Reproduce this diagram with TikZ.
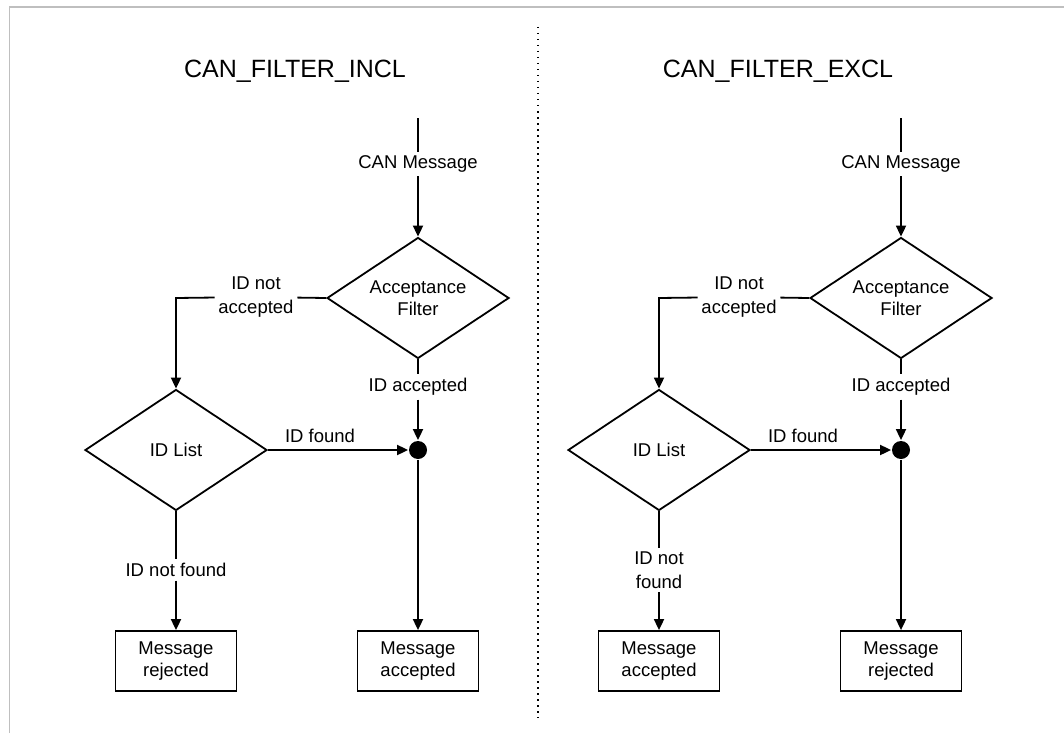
\documentclass[tikz,border=0pt]{standalone}
\usepackage{fontspec}
\setmainfont{Liberation Sans}
\usetikzlibrary{shapes.geometric,arrows.meta}
\begin{document}
\begin{tikzpicture}[x=1pt,y=-1pt,
  line width=1.8pt,
  arr/.style={-{Triangle[length=11pt,width=10pt]}},
  dec/.style={diamond,draw,line width=1.8pt,aspect=1.5,inner sep=0pt,minimum width=182pt,minimum height=121pt,align=center,font=\fontsize{18.5}{21.5}\selectfont},
  box/.style={draw,line width=1.8pt,minimum width=121pt,minimum height=60pt,inner sep=0pt,align=center,font=\fontsize{18.5}{22.5}\selectfont},
  lbl/.style={fill=white,inner sep=3pt,align=center,font=\fontsize{18.5}{24}\selectfont},
  ttl/.style={font=\fontsize{25}{30}\selectfont},
  dotn/.style={circle,fill=black,minimum size=18pt,inner sep=0pt}]
\useasboundingbox (0,0) rectangle (1064,733);
\draw[black!25,line width=1.5pt] (9.5,733) -- (9.5,7) -- (1064,7);
\draw[line width=1.2pt,dash pattern=on 1.5pt off 4.5pt] (538,27) -- (538,718);

\foreach \p/\dx/\ttext/\bl/\br/\nf in {I/0/CAN\_FILTER\_INCL/Message\\rejected/Message\\accepted/ID not found,
                                      E/483/CAN\_FILTER\_EXCL/Message\\accepted/Message\\rejected/ID not\\found}{
  \begin{scope}[xshift=\dx pt]
  \node[ttl] (title\p) at (295,71) {\ttext};
  \coordinate (start\p) at (418,118);
  \node[lbl] (can\p) at (418,164) {CAN Message};
  \node[dec] (acc\p) at (418,298) {Acceptance\\Filter};
  \node[lbl] (idacc\p) at (418,387) {ID accepted};
  \node[dotn] (dot\p) at (418,450) {};
  \node[dec] (list\p) at (176,450) {ID List};
  \node[lbl] (notacc\p) at (256,297) {ID not\\accepted};
  \coordinate (corner\p) at (176,298);
  \node[lbl,fill=none] (found\p) at (320,436) {ID found};
  \node[lbl] (notfound\p) at (176,570) {\nf};
  \node[box] (boxl\p) at (176,661) {\bl};
  \node[box] (boxr\p) at (418,661) {\br};
  \end{scope}
  \draw (start\p) -- (can\p);
  \draw[arr] (can\p) -- (acc\p.north);
  \draw (acc\p.south) -- (idacc\p);
  \draw[arr] (idacc\p) -- (dot\p.north);
  \draw (acc\p.west) -- (notacc\p);
  \draw[arr] (notacc\p) -- (corner\p) -- (list\p.north);
  \draw[arr] (list\p.east) -- (dot\p.west);
  \draw (list\p.south) -- (notfound\p);
  \draw[arr] (notfound\p) -- (boxl\p.north);
  \draw[arr] (dot\p.south) -- (boxr\p.north);
}
\end{tikzpicture}
\end{document}
